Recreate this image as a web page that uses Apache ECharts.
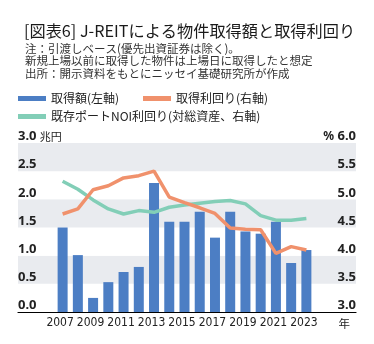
<!DOCTYPE html>
<html>
<head>
<meta charset="utf-8">
<script src="https://cdn.jsdelivr.net/npm/echarts@6/dist/echarts.min.js"></script>
<style>
  html, body { margin: 0; padding: 0; background: #fff; }
  #chart { width: 374px; height: 344px; }
</style>
</head>
<body>
<div id="chart"></div>
<script>
// J-REIT property acquisitions (trillion yen) and acquisition yields (%)
const years = ['2007', '2008', '2009', '2010', '2011', '2012', '2013', '2014', '2015',
               '2016', '2017', '2018', '2019', '2020', '2021', '2022', '2023'];
const acquisitionAmount = [1.50, 1.01, 0.25, 0.53, 0.71, 0.80, 2.29, 1.60, 1.60,
                           1.78, 1.32, 1.78, 1.43, 1.39, 1.60, 0.87, 1.10];
const acquisitionYield = [4.74, 4.83, 5.17, 5.24, 5.38, 5.42, 5.50, 5.04, 4.94,
                          4.85, 4.75, 4.49, 4.47, 4.46, 4.04, 4.16, 4.10];
const noiYield = [5.32, 5.18, 4.99, 4.83, 4.74, 4.80, 4.77, 4.86, 4.90,
                  4.93, 4.96, 4.98, 4.92, 4.71, 4.63, 4.63, 4.66];

const seriesNames = ['取得額(左軸)', '取得利回り(右軸)', '既存ポートNOI利回り(対総資産、右軸)'];
const titleText = '[図表6] J-REITによる物件取得額と取得利回り';
const noteLines = [
  '注：引渡しベース(優先出資証券は除く)。',
  '新規上場以前に取得した物件は上場日に取得したと想定',
  '出所：開示資料をもとにニッセイ基礎研究所が作成'
];

const JP = "'Noto Sans CJK JP', 'Noto Sans', sans-serif";
const NUM = "'Noto Sans', 'Open Sans', sans-serif";
const NARROW = "'Liberation Sans Narrow', 'DejaVu Sans Condensed', 'Noto Sans', sans-serif";

const BLUE = '#4c7ec4';
const ORANGE = '#f0916c';
const GREEN = '#82ceb7';
const BAND = '#e9ebef';

const chart = echarts.init(document.getElementById('chart'), null, { renderer: 'canvas' });

const legendBase = {
  icon: 'rect', itemWidth: 28, itemHeight: 5, itemGap: 0, padding: 0,
  selectedMode: false,
  textStyle: { fontFamily: JP, fontSize: 12, color: '#222', lineHeight: 13 }
};

const option = {
  backgroundColor: '#fff',
  animation: false,
  title: [
    { text: titleText, left: 19, top: 17,
      textStyle: { fontFamily: JP, fontSize: 16.2, fontWeight: 'normal', color: '#1a1a1a', lineHeight: 18 } },
    { text: noteLines.join('\n'), left: 20, top: 37,
      textStyle: { fontFamily: JP, fontSize: 11.5, fontWeight: 'normal', color: '#333', lineHeight: 12.5 } },
    { text: '年', right: 19, top: 313,
      textStyle: { fontFamily: JP, fontSize: 11.5, fontWeight: 'normal', color: '#222' } }
  ],
  legend: [
    Object.assign({}, legendBase, { data: [seriesNames[0]], left: 18, top: 92 }),
    Object.assign({}, legendBase, { data: [seriesNames[1]], left: 143, top: 92 }),
    Object.assign({}, legendBase, { data: [seriesNames[2]], left: 18, top: 110 })
  ],
  grid: [
    // frame: shaded bands, tick labels and baseline
    { left: 18, right: 18, top: 143, bottom: 32 },
    // data area for the yearly categories
    { left: 55, right: 60, top: 143, bottom: 32 }
  ],
  xAxis: [
    { gridIndex: 0, type: 'value', min: 0, max: 1,
      axisLine: { show: true, lineStyle: { color: '#000', width: 1.2 } },
      axisTick: { show: false }, axisLabel: { show: false }, splitLine: { show: false } },
    { gridIndex: 1, type: 'category', data: years,
      axisLine: { show: false }, axisTick: { show: false },
      axisLabel: { interval: 1, margin: 5, fontFamily: NARROW, fontSize: 12, color: '#222',
                   padding: [0, 5, 0, 0] } }
  ],
  yAxis: [
    { gridIndex: 0, type: 'value', position: 'left', min: 0, max: 3, interval: 0.5,
      axisLine: { show: false }, axisTick: { show: false }, splitLine: { show: false },
      splitArea: { show: true, areaStyle: { color: ['#ffffff', BAND] } },
      axisLabel: {
        inside: true, margin: 0, align: 'left', verticalAlign: 'bottom',
        formatter: v => v === 3 ? '{n|3.0} {u|兆円}' : '{n|' + v.toFixed(1) + '}',
        rich: {
          n: { fontFamily: NUM, fontSize: 13, fontWeight: 'bold', color: '#222' },
          u: { fontFamily: JP, fontSize: 11, color: '#222' }
        }
      } },
    { gridIndex: 0, type: 'value', position: 'right', min: 3, max: 6, interval: 0.5,
      axisLine: { show: false }, axisTick: { show: false }, splitLine: { show: false },
      axisLabel: {
        inside: true, margin: 0, align: 'right', verticalAlign: 'bottom',
        formatter: v => v === 6 ? '{u|%} {n|6.0}' : '{n|' + v.toFixed(1) + '}',
        rich: {
          n: { fontFamily: NUM, fontSize: 13, fontWeight: 'bold', color: '#222' },
          u: { fontFamily: NUM, fontSize: 12, fontWeight: 'bold', color: '#222' }
        }
      } },
    { gridIndex: 1, type: 'value', min: 0, max: 3, show: false },
    { gridIndex: 1, type: 'value', min: 3, max: 6, show: false }
  ],
  series: [
    { name: seriesNames[0], type: 'bar', xAxisIndex: 1, yAxisIndex: 2,
      data: acquisitionAmount, barWidth: 10, itemStyle: { color: BLUE } },
    { name: seriesNames[2], type: 'line', xAxisIndex: 1, yAxisIndex: 3,
      data: noiYield, showSymbol: false, symbol: 'none',
      lineStyle: { color: GREEN, width: 3.5 }, itemStyle: { color: GREEN } },
    { name: seriesNames[1], type: 'line', xAxisIndex: 1, yAxisIndex: 3,
      data: acquisitionYield, showSymbol: false, symbol: 'none',
      lineStyle: { color: ORANGE, width: 3.5 }, itemStyle: { color: ORANGE } }
  ]
};

chart.setOption(option);
</script>
</body>
</html>
